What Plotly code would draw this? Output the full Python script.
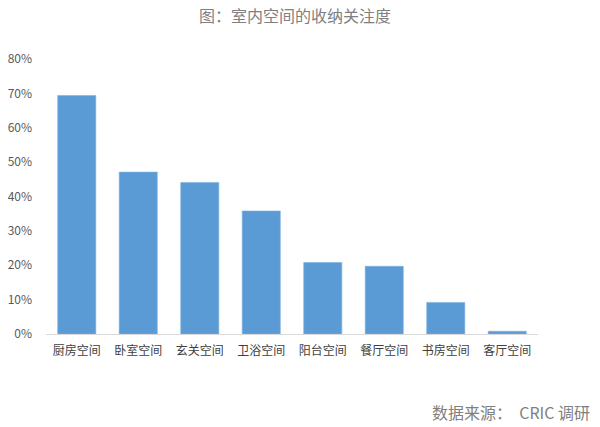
import plotly.graph_objects as go

categories = ["厨房空间", "卧室空间", "玄关空间", "卫浴空间", "阳台空间", "餐厅空间", "书房空间", "客厅空间"]
values = [0.694, 0.471, 0.441, 0.358, 0.208, 0.197, 0.092, 0.008]
tick_vals = [0, 0.1, 0.2, 0.3, 0.4, 0.5, 0.6, 0.7, 0.8]
tick_text = ["0%", "10%", "20%", "30%", "40%", "50%", "60%", "70%", "80%"]

font_family = "Noto Sans CJK SC"

fig = go.Figure(
    go.Bar(
        x=categories,
        y=values,
        marker=dict(color="#5B9BD5", line=dict(color="#7FB2E0", width=0.6)),
        hoverinfo="x+y",
    )
)

fig.update_layout(
    width=592,
    height=419,
    margin=dict(l=38, r=62, t=51, b=93),
    paper_bgcolor="white",
    plot_bgcolor="white",
    bargap=0.38,
    showlegend=False,
    font=dict(family=font_family, color="#595959"),
    title=dict(
        text="图：室内空间的收纳关注度",
        x=0.485,
        xanchor="center",
        y=0.994,
        yanchor="top",
        pad=dict(t=0, b=0),
        font=dict(family=font_family, size=16, color="#808080"),
    ),
    annotations=[
        dict(
            text="数据来源：  CRIC 调研",
            xref="paper",
            yref="paper",
            x=1.11,
            y=-0.284,
            xanchor="right",
            yanchor="middle",
            showarrow=False,
            font=dict(family=font_family, size=16, color="#808080"),
        )
    ],
)

fig.update_xaxes(
    showline=True,
    linecolor="#D9D9D9",
    linewidth=1,
    ticks="",
    showgrid=False,
    automargin=False,
    ticklabelstandoff=6,
    tickfont=dict(family=font_family, size=12, color="#404040"),
)
fig.update_yaxes(
    range=[0, 0.8],
    tickvals=tick_vals,
    ticktext=tick_text,
    showgrid=False,
    zeroline=False,
    showline=False,
    ticks="",
    automargin=False,
    ticklabelstandoff=13,
    tickfont=dict(family=font_family, size=12, color="#595959"),
)

fig.write_html("out.html")
